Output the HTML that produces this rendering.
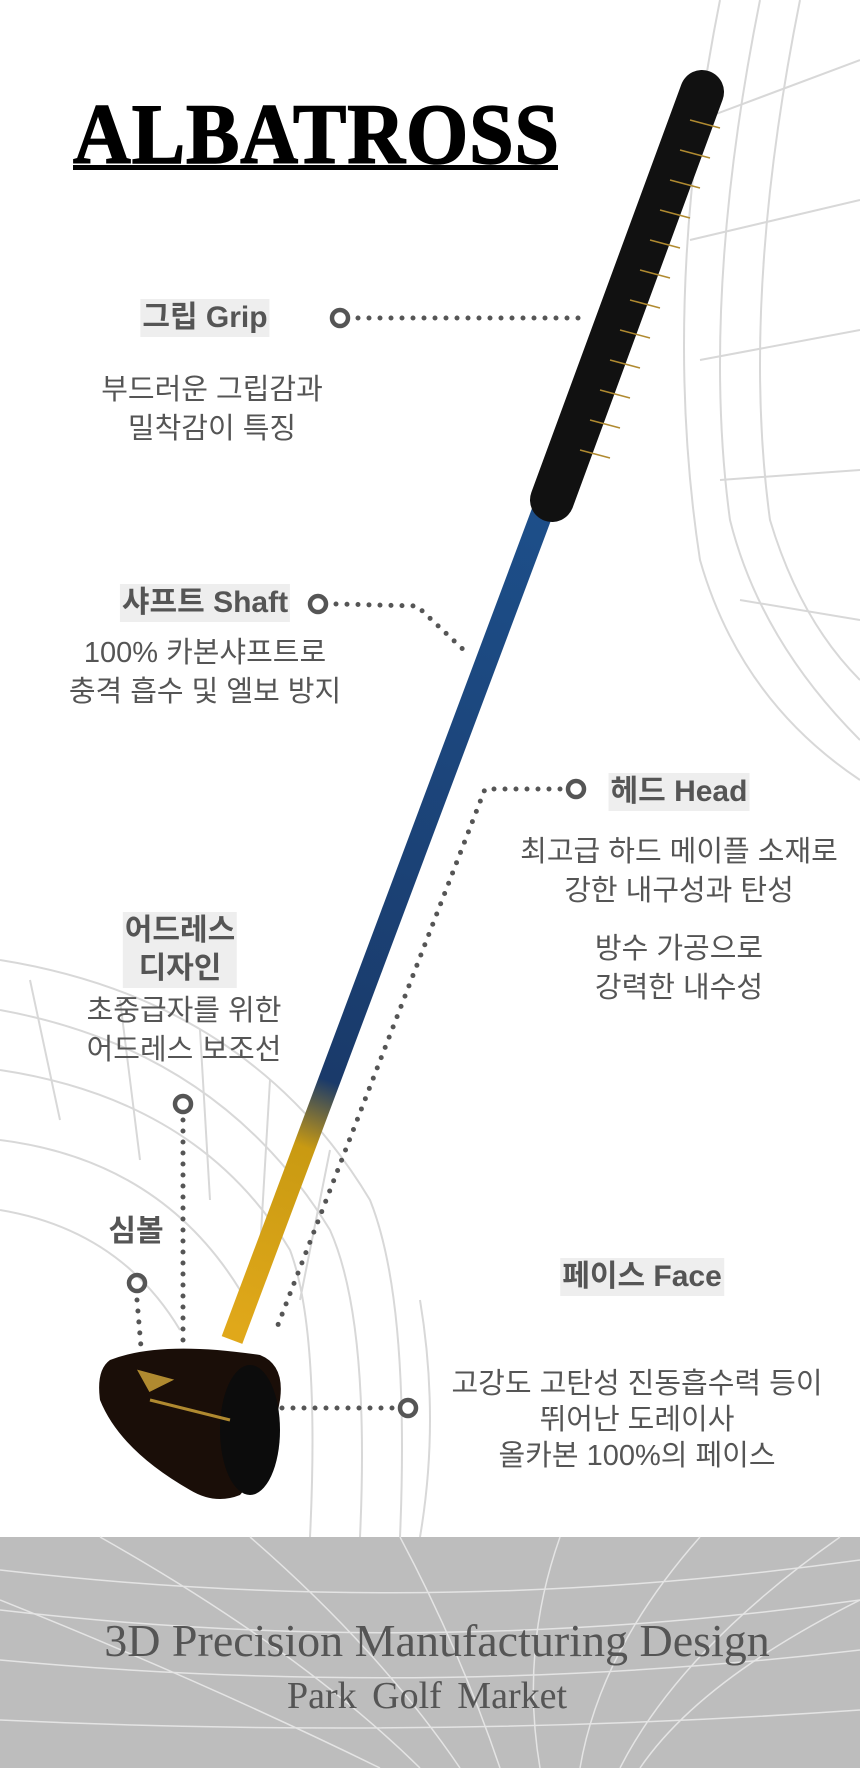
<!DOCTYPE html>
<html><head><meta charset="utf-8"><style>
html,body{margin:0;padding:0}
body{width:860px;height:1768px;position:relative;overflow:hidden;background:#fff;font-family:"Liberation Sans","Noto Sans CJK KR",sans-serif;color:#555}
.t{position:absolute;white-space:nowrap;transform:translateX(-50%);text-align:center}
.lab{font-size:30px;font-weight:bold;background:#eee;color:#555;padding:0 2px;line-height:38px}
.desc{font-size:29px;line-height:39px;color:#555}
</style></head><body>
<svg width="860" height="1768" style="position:absolute;left:0;top:0">
 <g fill="none" stroke="#d8d8d8" stroke-width="2">
  <path d="M760 0 Q700 300 730 520 Q760 640 860 740"/>
  <path d="M800 0 Q740 300 770 520 Q800 620 860 680"/>
  <path d="M720 0 Q660 300 700 560 Q740 700 860 780"/>
  <path d="M700 120 L860 60 M690 240 L860 200 M700 360 L860 330 M720 480 L860 470 M740 600 L860 620"/>
  <path d="M0 960 Q250 1000 370 1200 Q410 1300 400 1537"/>
  <path d="M0 1010 Q220 1050 330 1230 Q370 1320 360 1537"/>
  <path d="M0 1070 Q200 1100 290 1250 Q320 1330 310 1537"/>
  <path d="M0 1140 Q160 1160 240 1290 M0 1210 Q120 1230 180 1330"/>
  <path d="M30 980 L60 1120 M120 1000 L140 1160 M200 1030 L210 1200 M270 1080 L260 1250 M330 1150 L300 1300"/>
  <path d="M420 1300 Q440 1420 420 1537"/>
 </g>
 <rect x="0" y="1537" width="860" height="231" fill="#bdbdbd"/>
 <g fill="none" stroke="#e4e4e4" stroke-width="1.5">
  <path d="M0 1570 Q430 1620 860 1560"/><path d="M0 1610 Q430 1660 860 1600"/>
  <path d="M0 1660 Q430 1700 860 1650"/><path d="M0 1720 Q430 1740 860 1710"/>
  <path d="M100 1537 Q300 1650 420 1768"/><path d="M250 1537 Q380 1650 460 1768"/>
  <path d="M400 1537 Q460 1650 500 1768"/><path d="M560 1537 Q520 1650 540 1768"/>
  <path d="M700 1537 Q600 1650 580 1768"/><path d="M840 1537 Q680 1650 620 1768"/>
  <path d="M0 1600 Q200 1680 380 1768"/><path d="M860 1600 Q700 1680 640 1768"/>
 </g>
 <defs><linearGradient id="sg" x1="550" y1="502" x2="237" y2="1330" gradientUnits="userSpaceOnUse">
  <stop offset="0" stop-color="#1d4f8a"/><stop offset="0.7" stop-color="#1a3a6a"/><stop offset="0.78" stop-color="#c99a12"/><stop offset="1" stop-color="#e0a81a"/></linearGradient></defs>
 <line x1="545" y1="505" x2="232" y2="1340" stroke="url(#sg)" stroke-width="22"/>
 <line x1="702" y1="92" x2="552" y2="500" stroke="#111" stroke-width="44" stroke-linecap="round"/>
 <g stroke="#b08a30" stroke-width="1.5">
  <path d="M690 120 l30 8 M680 150 l30 8 M670 180 l30 8 M660 210 l30 8 M650 240 l30 8 M640 270 l30 8 M630 300 l30 8 M620 330 l30 8 M610 360 l30 8 M600 390 l30 8 M590 420 l30 8 M580 450 l30 8"/>
 </g>
 <path d="M110 1360 Q160 1340 260 1355 Q285 1365 280 1400 Q270 1460 240 1495 Q215 1505 190 1490 Q120 1450 100 1400 Q96 1370 110 1360Z" fill="#1a0e08"/>
 <ellipse cx="250" cy="1430" rx="30" ry="65" fill="#0c0c0c"/>
 <path d="M140 1372 L170 1380 L150 1390Z M150 1400 L190 1410 L230 1420" stroke="#b08a30" stroke-width="3" fill="#b08a30"/>
 <g stroke="#555" stroke-width="5" stroke-dasharray="0 11" stroke-linecap="round" fill="none">
  <path d="M358 318 L588 318"/>
  <path d="M336 604 L417 606 L468 654"/>
  <path d="M560 789 L485 789 L276 1330"/>
  <path d="M183 1120 L183 1347"/>
  <path d="M137 1300 L141 1347"/>
  <path d="M282 1408 L395 1408"/>
 </g>
 <g fill="none" stroke="#555" stroke-width="4.5">
  <circle cx="340" cy="318" r="8"/><circle cx="318" cy="604" r="8"/><circle cx="576" cy="789" r="8"/>
  <circle cx="183" cy="1104" r="8"/><circle cx="137" cy="1283" r="8"/><circle cx="408" cy="1408" r="8"/>
 </g>
</svg>
<div style="position:absolute;left:73px;top:84px;font-family:'Liberation Serif',serif;font-weight:900;font-size:86px;color:#000;transform:scaleX(0.93);transform-origin:left;letter-spacing:1px;-webkit-text-stroke:1.5px #000">ALBATROSS</div>
<div style="position:absolute;left:73px;top:165px;width:485px;height:5px;background:#000"></div>

<div class="t lab" style="left:205px;top:299px">그립 Grip</div>
<div class="t desc" style="left:212px;top:371px">부드러운 그립감과<br>밀착감이 특징</div>

<div class="t lab" style="left:205px;top:584px">샤프트 Shaft</div>
<div class="t desc" style="left:205px;top:634px">100% 카본샤프트로<br>충격 흡수 및 엘보 방지</div>

<div class="t lab" style="left:679px;top:773px">헤드 Head</div>
<div class="t desc" style="left:679px;top:833px">최고급 하드 메이플 소재로<br>강한 내구성과 탄성</div>
<div class="t desc" style="left:679px;top:930px">방수 가공으로<br>강력한 내수성</div>

<div class="t lab" style="left:180px;top:912px;line-height:38px">어드레스<br>디자인</div>
<div class="t desc" style="left:184px;top:992px">초중급자를 위한<br>어드레스 보조선</div>

<div class="t lab" style="left:136px;top:1213px;background:none">심볼</div>

<div class="t lab" style="left:642px;top:1258px">페이스 Face</div>
<div class="t desc" style="left:637px;top:1366px;line-height:36px">고강도 고탄성 진동흡수력 등이<br>뛰어난 도레이사<br>올카본 100%의 페이스</div>

<div class="t" style="left:437px;top:1614px;font-family:'Liberation Serif',serif;font-size:46px;color:#555">3D Precision Manufacturing Design</div>
<div class="t" style="left:427px;top:1674px;font-family:'Liberation Serif',serif;font-size:38px;color:#555;word-spacing:6px">Park Golf Market</div>
</body></html>
